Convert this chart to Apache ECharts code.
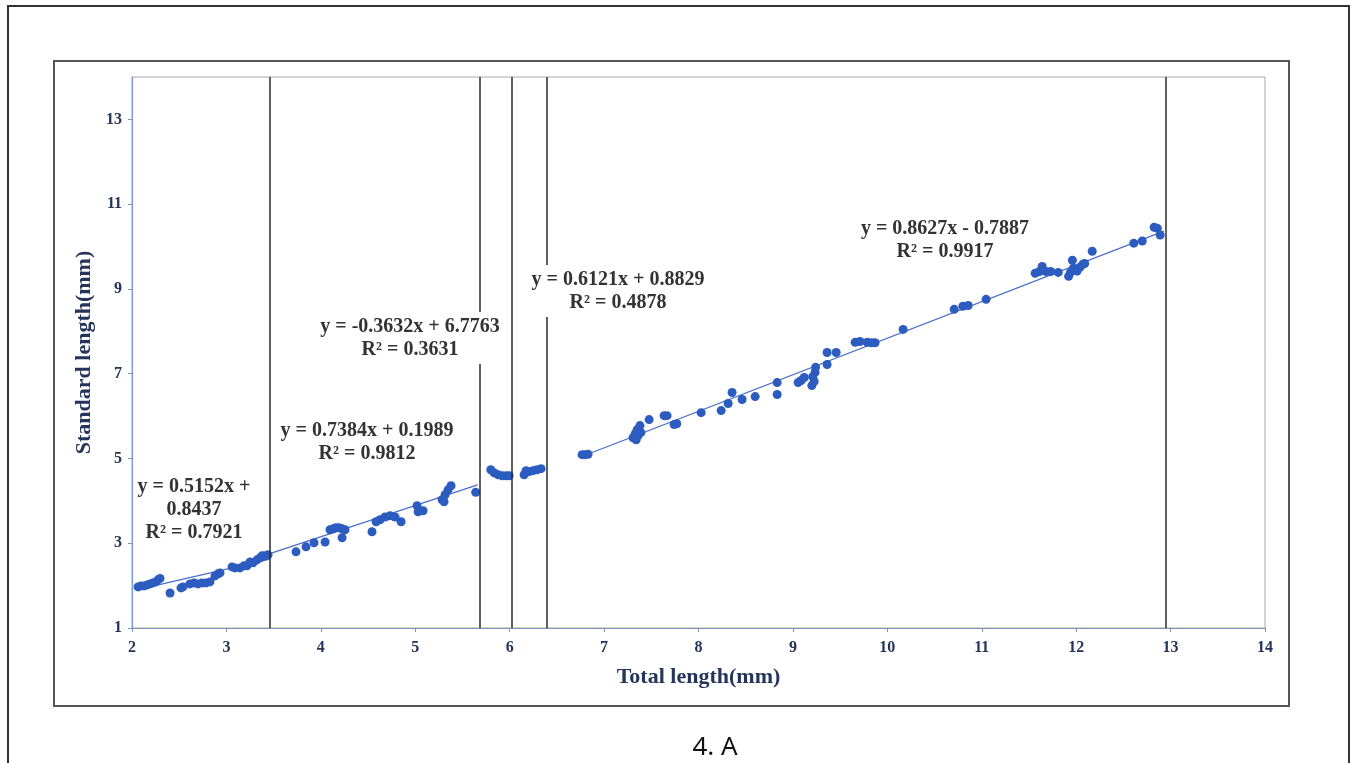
<!DOCTYPE html>
<html>
<head>
<meta charset="utf-8">
<script src="https://cdn.jsdelivr.net/npm/echarts@6/dist/echarts.min.js"></script>
<style>
  html, body { margin: 0; padding: 0; background: #fff; }
  #chart { width: 1351px; height: 763px; }
</style>
</head>
<body>
<div id="chart"></div>
<script>
// Total length vs standard length (mm), measured specimens grouped by stage
const stage1 = [
  [2.064, 1.969], [2.095, 1.993], [2.127, 1.993], [2.159, 2.017], [2.191, 2.040],
  [2.222, 2.064], [2.254, 2.087], [2.275, 2.135], [2.297, 2.170],
  [2.403, 1.827], [2.519, 1.946], [2.540, 1.969],
  [2.614, 2.040], [2.657, 2.064], [2.699, 2.040], [2.742, 2.064], [2.784, 2.064], [2.826, 2.087],
  [2.879, 2.229], [2.911, 2.277], [2.932, 2.300],
  [3.059, 2.442], [3.091, 2.418], [3.144, 2.418], [3.186, 2.466], [3.218, 2.466],
  [3.250, 2.560], [3.282, 2.537],
  [3.324, 2.608], [3.356, 2.655], [3.377, 2.702], [3.409, 2.702], [3.441, 2.726]
];
const stage2 = [
  [3.737, 2.797], [3.843, 2.915], [3.928, 3.010], [4.045, 3.030],
  [4.097, 3.317], [4.129, 3.340], [4.161, 3.364], [4.193, 3.364], [4.225, 3.340], [4.256, 3.317],
  [4.225, 3.128],
  [4.542, 3.270], [4.585, 3.506], [4.627, 3.553], [4.680, 3.620], [4.733, 3.648], [4.786, 3.620],
  [4.850, 3.506],
  [5.019, 3.884], [5.030, 3.740], [5.083, 3.766],
  [5.284, 4.026], [5.305, 3.980], [5.316, 4.144], [5.347, 4.260], [5.379, 4.357],
  [5.640, 4.200]
];
const stage3 = [
  [5.800, 4.735], [5.835, 4.664], [5.877, 4.617], [5.920, 4.593], [5.962, 4.593], [5.994, 4.593]
];
const stage4 = [
  [6.153, 4.617], [6.174, 4.712], [6.206, 4.688], [6.248, 4.712], [6.290, 4.735], [6.333, 4.759]
];
const stage5 = [
  [6.767, 5.090], [6.800, 5.090], [6.830, 5.100],
  [7.307, 5.490], [7.330, 5.586], [7.350, 5.680], [7.360, 5.540], [7.380, 5.775], [7.340, 5.440], [7.390, 5.610],
  [7.477, 5.917], [7.636, 6.010], [7.667, 6.010], [7.742, 5.800], [7.770, 5.820],
  [8.028, 6.080], [8.240, 6.130], [8.314, 6.296], [8.356, 6.556], [8.462, 6.390], [8.600, 6.460],
  [8.833, 6.790], [8.833, 6.510],
  [9.055, 6.790], [9.087, 6.840], [9.120, 6.910],
  [9.200, 6.720], [9.210, 6.930], [9.225, 6.815], [9.235, 7.030], [9.240, 7.150],
  [9.362, 7.217], [9.362, 7.500], [9.458, 7.500],
  [9.659, 7.740], [9.710, 7.760], [9.786, 7.740], [9.830, 7.730], [9.870, 7.730],
  [10.167, 8.045],
  [10.708, 8.518], [10.800, 8.590], [10.856, 8.610], [11.046, 8.754],
  [11.566, 9.370], [11.610, 9.410], [11.640, 9.530], [11.680, 9.410], [11.730, 9.410], [11.810, 9.390],
  [11.920, 9.300], [11.940, 9.390], [11.960, 9.676], [11.970, 9.490], [12.010, 9.420],
  [12.040, 9.510], [12.070, 9.580], [12.090, 9.600],
  [12.170, 9.890], [12.610, 10.080], [12.700, 10.130],
  [12.826, 10.456], [12.860, 10.430], [12.890, 10.270]
];

// Stage boundaries on the total-length axis
const breakpoints = [3.46, 5.68, 6.02, 6.39, 12.95];

// Linear fits per stage: slope, intercept, R², and the x span of the fitted line
const fitSlopes     = [0.5152, 0.7384, -0.3632, 0.6121, 0.8627];
const fitIntercepts = [0.8437, 0.1989, 6.7763, 0.8829, -0.7887];
const fitR2         = ['0.7921', '0.9812', '0.3631', '0.4878', '0.9917'];
const fitSpans      = [[2.06, 3.46], [3.46, 5.66], [5.80, 6.00], [6.15, 6.35], [6.75, 12.93]];

const stages = [stage1, stage2, stage3, stage4, stage5];

function fmt(v) { return Math.abs(v).toFixed(4); }
function equationText(i) {
  const s = fitSlopes[i], b = fitIntercepts[i];
  const slope = (s < 0 ? '-' : '') + fmt(s);
  const sign = b < 0 ? ' - ' : ' + ';
  if (i === 0) {
    return 'y = ' + slope + 'x +\n' + fmt(b) + '\nR² = ' + fitR2[i];
  }
  return 'y = ' + slope + 'x' + sign + fmt(b) + '\nR² = ' + fitR2[i];
}

// Label placement (pixels) for each fit
const eqLabelPos = [[194, 510], [367, 442], [410, 338], [618, 291], [945, 240]];
const eqLabelBg  = [false, false, true, true, false];

const POINT_COLOR = '#2c5cc0';
const FIT_COLOR = '#4a70c8';
const AXIS_TEXT = '#25345a';
const serif = '"Liberation Serif", "DejaVu Serif", serif';

const chart = echarts.init(document.getElementById('chart'));

const series = [];
stages.forEach((pts, i) => {
  const s = {
    type: 'scatter',
    data: pts,
    symbolSize: 9,
    itemStyle: { color: POINT_COLOR, opacity: 1 },
    z: 4
  };
  if (i === 0) {
    s.markLine = {
      silent: true,
      symbol: ['none', 'none'],
      label: { show: false },
      lineStyle: { color: '#2a2a2a', width: 1.5, type: 'solid' },
      data: breakpoints.map(v => ({ xAxis: v }))
    };
  }
  series.push(s);
});
fitSlopes.forEach((s, i) => {
  const [a, b] = fitSpans[i];
  series.push({
    type: 'line',
    data: [[a, s * a + fitIntercepts[i]], [b, s * b + fitIntercepts[i]]],
    symbol: 'none',
    lineStyle: { color: FIT_COLOR, width: 1.3 },
    z: 3,
    silent: true
  });
});

const graphics = [
  // outer frame
  { type: 'polyline', shape: { points: [[8, 763], [8, 6], [1349, 6], [1349, 763]] },
    style: { stroke: '#333', lineWidth: 2, fill: null }, z: 0 },
  // inner frame
  { type: 'rect', shape: { x: 54, y: 61, width: 1235, height: 645 },
    style: { stroke: '#555', lineWidth: 2, fill: null }, z: 0 },
  { type: 'text', style: { text: '4. A', x: 715, y: 748, align: 'center', verticalAlign: 'middle',
    font: '26px "Noto Sans", "DejaVu Sans", sans-serif', fill: '#111' }, z: 10 }
];
eqLabelPos.forEach((p, i) => {
  const st = {
    text: equationText(i), x: p[0], y: p[1], align: 'center', verticalAlign: 'middle',
    font: 'bold 20px ' + serif, fill: '#333', lineHeight: 23
  };
  if (eqLabelBg[i]) { st.backgroundColor = '#fff'; st.padding = [3, 4]; }
  graphics.push({ type: 'text', style: st, z: 100 });
});

chart.setOption({
  backgroundColor: '#fff',
  animation: false,
  grid: { left: 132, right: 86, top: 77, bottom: 135, show: true, borderColor: '#a8a8a8', borderWidth: 1 },
  xAxis: {
    type: 'value', min: 2, max: 14, interval: 1,
    name: 'Total length(mm)', nameLocation: 'middle', nameGap: 38,
    nameTextStyle: { fontFamily: serif, fontWeight: 'bold', fontSize: 22, color: AXIS_TEXT },
    axisLine: { lineStyle: { color: '#8494b4', width: 1.2 } },
    axisTick: { show: true, length: 4, lineStyle: { color: '#8494b4' } },
    axisLabel: { fontFamily: serif, fontWeight: 'bold', fontSize: 16, color: AXIS_TEXT, margin: 12 },
    splitLine: { show: false }
  },
  yAxis: {
    type: 'value', min: 1, max: 14, interval: 2,
    name: 'Standard length(mm)', nameLocation: 'middle', nameGap: 35,
    nameTextStyle: { fontFamily: serif, fontWeight: 'bold', fontSize: 22, color: AXIS_TEXT },
    axisLine: { show: true, lineStyle: { color: '#7d9bd6', width: 1.2 } },
    axisTick: { show: true, length: 4, lineStyle: { color: '#8494b4' } },
    axisLabel: { fontFamily: serif, fontWeight: 'bold', fontSize: 16, color: AXIS_TEXT, margin: 10, showMaxLabel: false },
    splitLine: { show: false }
  },
  series: series,
  graphic: graphics
});
</script>
</body>
</html>
